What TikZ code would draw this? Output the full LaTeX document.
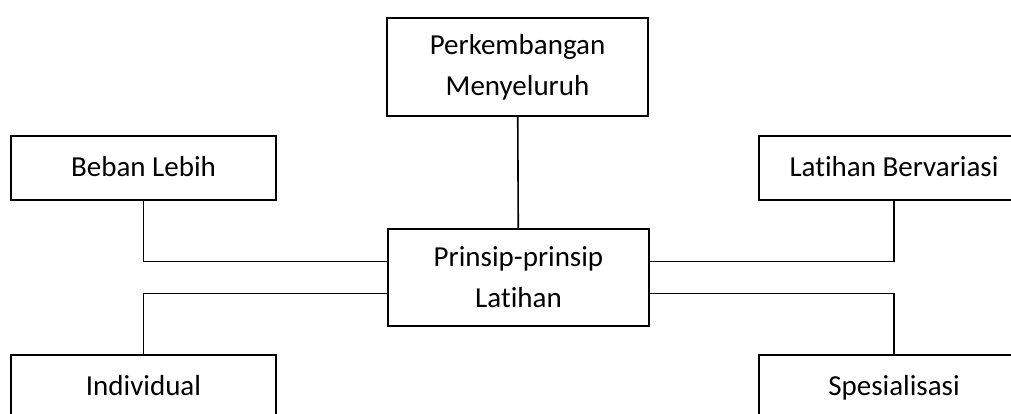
\documentclass[tikz,border=0pt]{standalone}
\usepackage{fontspec}
\setmainfont{Carlito}[Ligatures={NoCommon}]
\usetikzlibrary{positioning}
\tikzset{
  prinsip/.style={rectangle, draw=black, line width=1.6pt, fill=white,
                  align=center, inner sep=0pt,
                  font=\fontsize{29}{41}\selectfont},
  satubaris/.style={prinsip, text height=21pt, text depth=5pt},
  link/.style={line width=1.6pt, color=black},
}

\begin{document}
\begin{tikzpicture}[x=1pt, y=-1pt]
        \useasboundingbox (0,0) rectangle (1011,414);
        % central node and the five principles around it
        \node[prinsip, minimum width=261pt, minimum height=97pt] (pusat) at (518.5,277.5) {Prinsip-prinsip\\Latihan};
        \node[prinsip, minimum width=261pt, minimum height=98pt] (menyeluruh) at (517.5,67) {Perkembangan\\Menyeluruh};
        \node[satubaris, minimum width=265pt, minimum height=64pt] (beban) at (143.5,168) {Beban Lebih};
        \node[satubaris, minimum width=270pt, minimum height=64pt] (variasi) at (894,168) {Latihan Bervariasi};
        \node[satubaris, minimum width=265pt, minimum height=64pt] (individu) at (143.5,387) {Individual};
        \node[satubaris, minimum width=270pt, minimum height=64pt] (spesial) at (894,387) {Spesialisasi};
        \draw[link] (menyeluruh) -- (pusat);
        \draw[link] (beban.south) |- ([yshift=16pt]pusat.west);
        \draw[link] (variasi.south) |- ([yshift=16pt]pusat.east);
        \draw[link] (individu.north) |- ([yshift=-16pt]pusat.west);
        \draw[link] (spesial.north) |- ([yshift=-16pt]pusat.east);
      \end{tikzpicture}
\end{document}
